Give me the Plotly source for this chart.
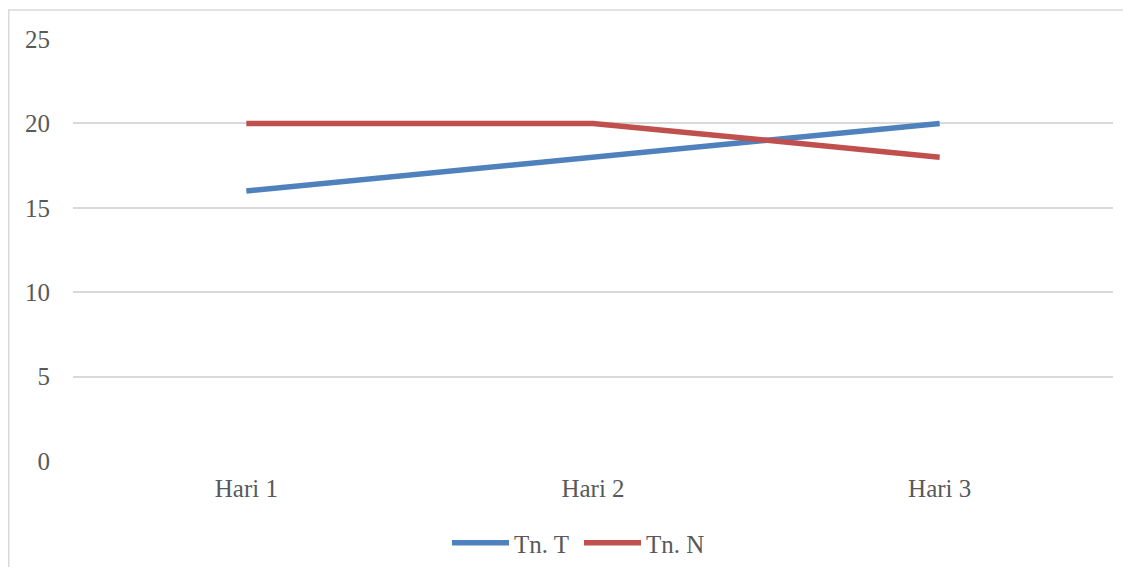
import plotly.graph_objects as go

categories = ["Hari 1", "Hari 2", "Hari 3"]
tn_t = [16, 18, 20]
tn_n = [20, 20, 18]
y_ticks = [0, 5, 10, 15, 20, 25]

# page body has an 8px margin; work in screen pixels and convert
OFF = 8
W, H = 1131 - 2 * OFF, 575 - 2 * OFF
PX0, PX1, PY0, PY1 = 73, 1113, 39, 461  # plot area in screen pixels
L, R, T, B = PX0 - OFF, W - (PX1 - OFF), PY0 - OFF, H - (PY1 - OFF)
pw, ph = PX1 - PX0, PY1 - PY0

def px_x(p):
    return (p - PX0) / pw

def px_y(p):
    return (PY1 - p) / ph

FONT = "Liberation Serif"
TXT = "#595959"
FS = 25

fig = go.Figure()
fig.add_trace(go.Scatter(x=categories, y=tn_t, mode="lines", name="Tn. T",
                         line=dict(color="#4F81BD", width=5.5)))
fig.add_trace(go.Scatter(x=categories, y=tn_n, mode="lines", name="Tn. N",
                         line=dict(color="#C0504D", width=5.5)))

fig.update_layout(
    width=W, height=H,
    margin=dict(l=L, r=R, t=T, b=B, autoexpand=False),
    paper_bgcolor="white", plot_bgcolor="white",
    font=dict(family=FONT, size=FS, color=TXT),
    showlegend=True,
    legend=dict(orientation="h", x=px_x(579), xanchor="center", y=px_y(543), yanchor="middle",
                font=dict(family=FONT, size=FS, color=TXT), itemwidth=57,
                entrywidth=60, entrywidthmode="pixels",
                traceorder="normal", bgcolor="rgba(0,0,0,0)"),
    xaxis=dict(range=[-0.5, 2.5], showgrid=False, zeroline=False, showline=False,
               ticks="", tickfont=dict(family=FONT, size=FS, color=TXT),
               ticklabelstandoff=10),
    yaxis=dict(range=[0, 25], tickvals=y_ticks, showgrid=True, gridcolor="#D9D9D9",
               gridwidth=1.6, zeroline=False, showline=False, ticks="",
               tickfont=dict(family=FONT, size=FS, color=TXT), ticklabelstandoff=22),
    shapes=[
        dict(type="line", xref="paper", yref="paper", x0=px_x(OFF), x1=px_x(1140),
             y0=px_y(10), y1=px_y(10), line=dict(color="#D9D9D9", width=1.5)),
        dict(type="line", xref="paper", yref="paper", x0=px_x(OFF + 0.75), x1=px_x(OFF + 0.75),
             y0=px_y(10), y1=px_y(590), line=dict(color="#D9D9D9", width=1.5)),
    ],
)

fig.write_html("out.html")
